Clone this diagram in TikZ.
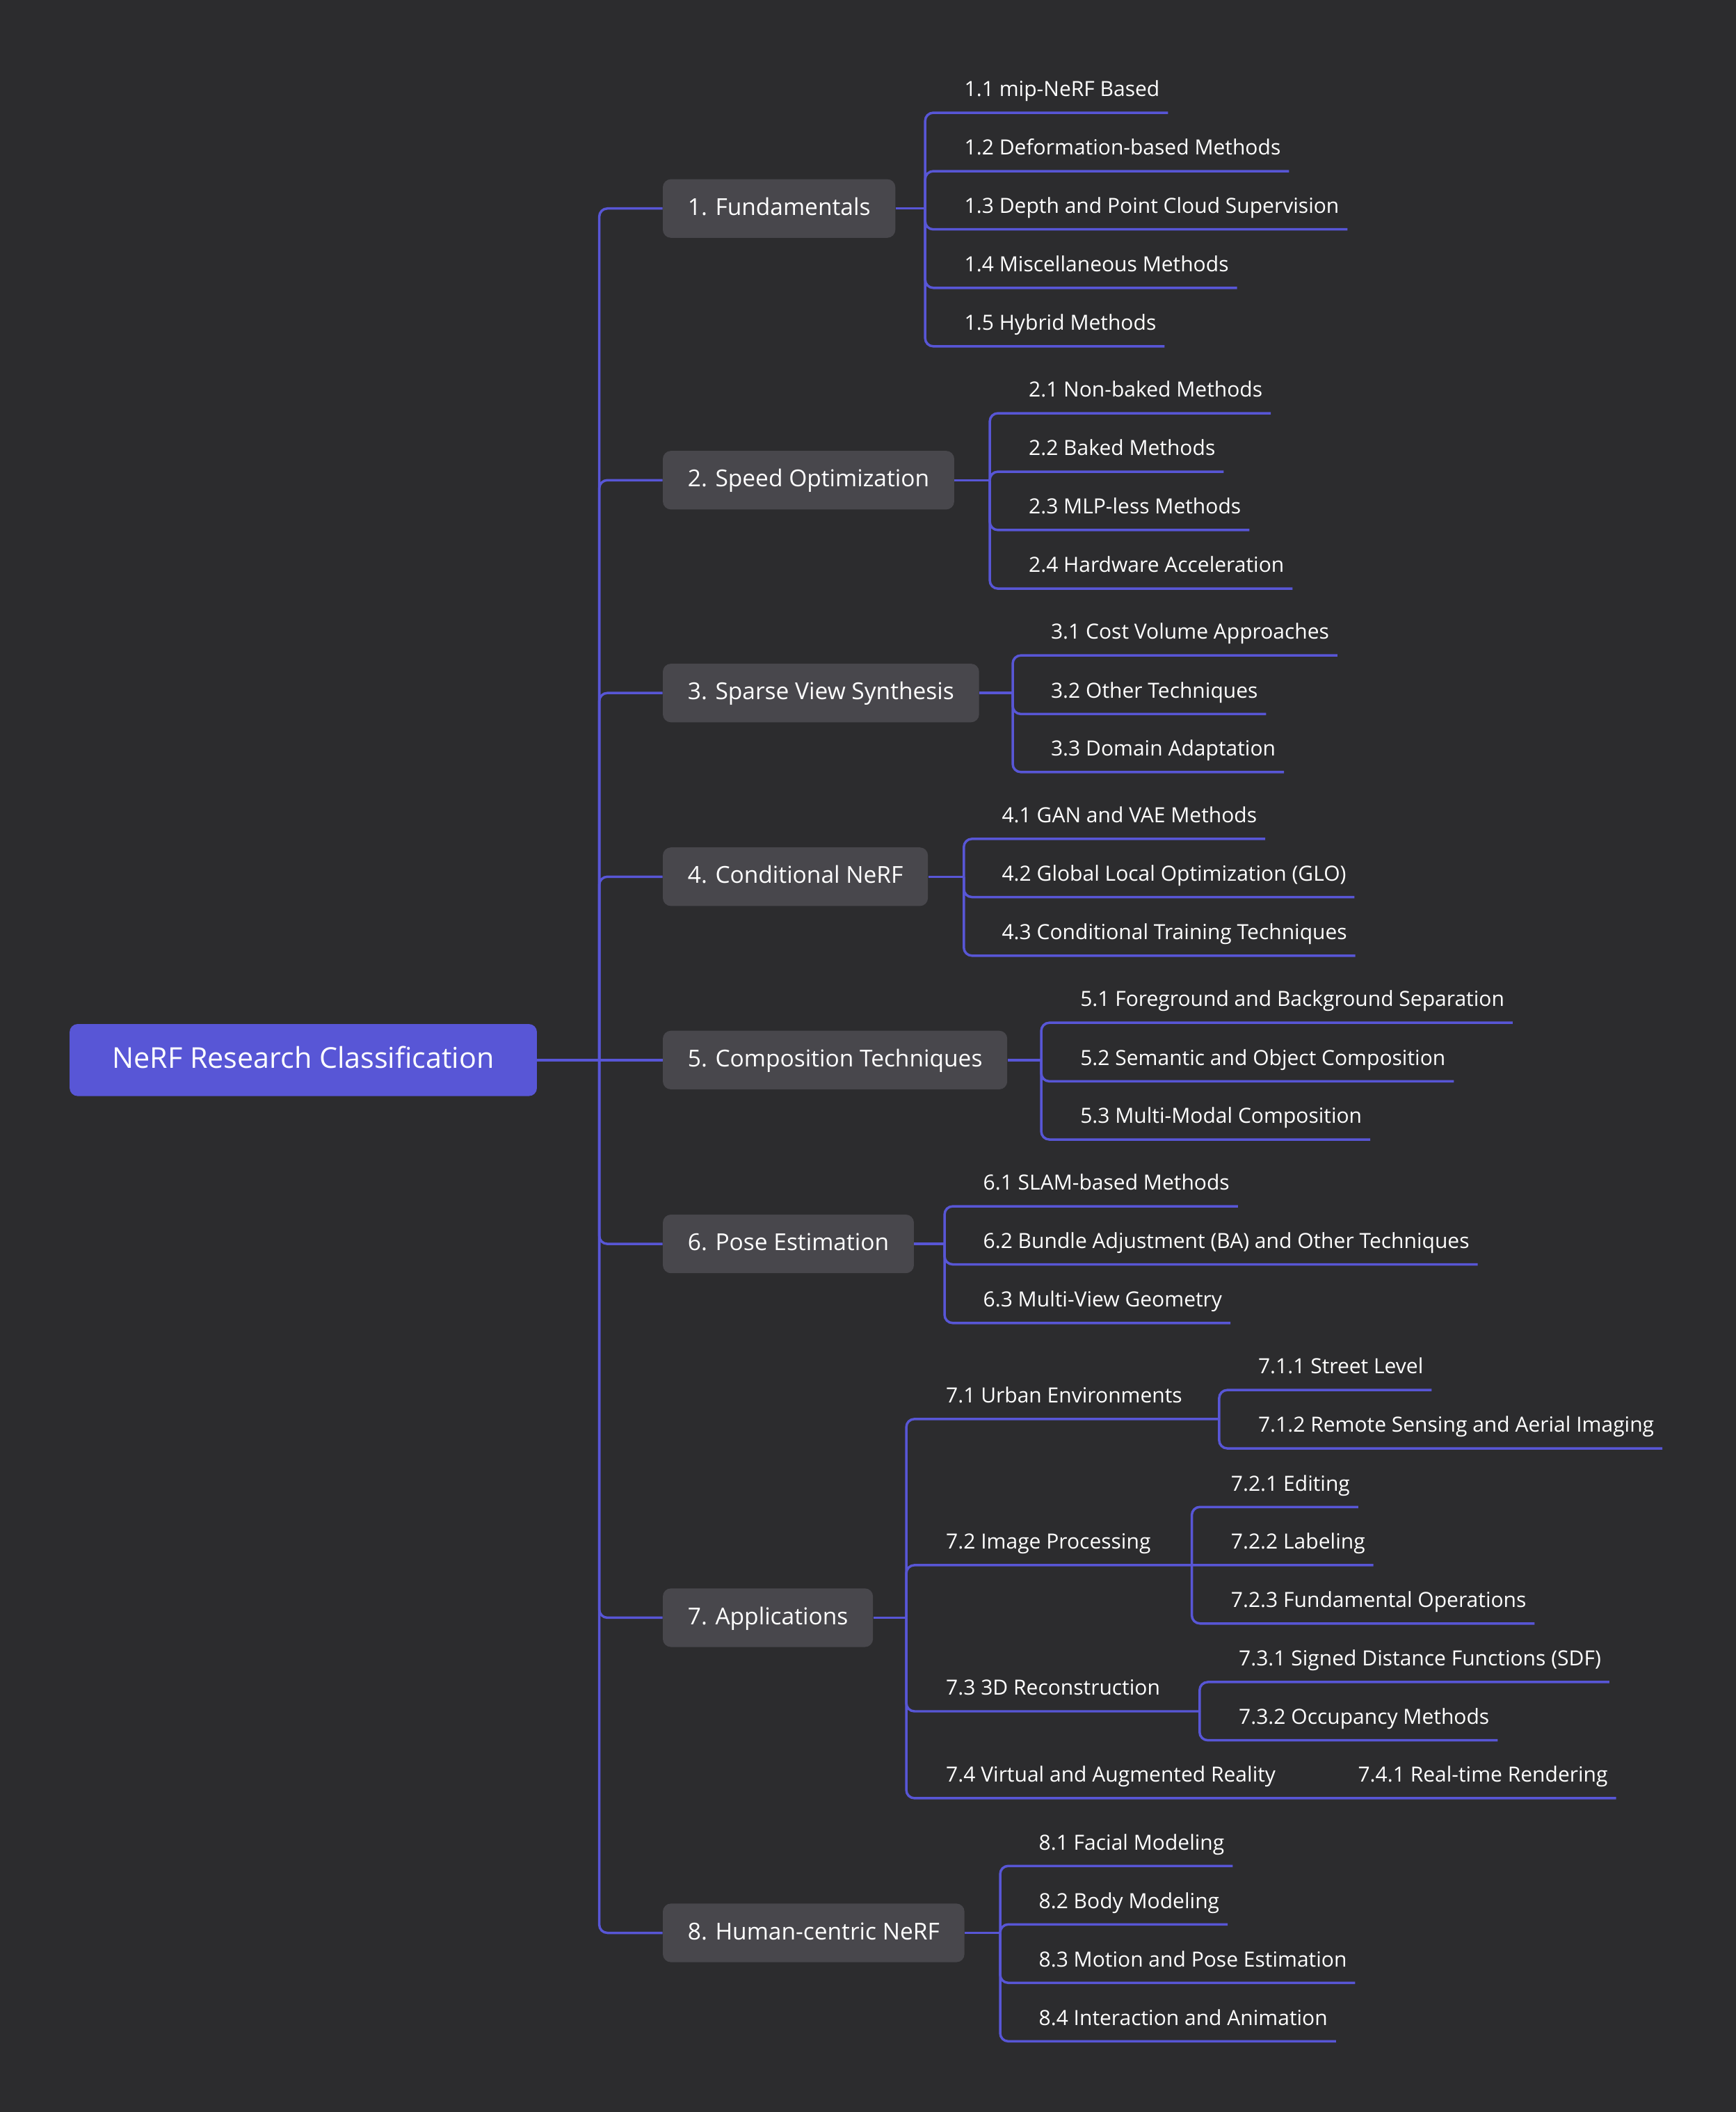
\documentclass[tikz,border=0pt]{standalone}
\usepackage{fontspec}
\setmainfont{Open Sans}
\definecolor{bgdark}{HTML}{2C2C2E}
\definecolor{indigo}{HTML}{5856D6}
\definecolor{boxgray}{HTML}{48474C}

\begin{document}
\begin{tikzpicture}[x=1pt, y=-1pt,
  link/.style={draw=indigo, line width=1.8pt, rounded corners=6pt},
  rootbox/.style={fill=indigo, rounded corners=6pt, text=white, font=\fontsize{21.3}{24}\selectfont,
    inner xsep=0pt, minimum width=347pt, minimum height=53.5pt, text height=12.4pt, text depth=0pt},
  topic/.style={fill=boxgray, rounded corners=6pt, text=white, font=\fontsize{17.3}{20}\selectfont,
    inner xsep=18.5pt, minimum height=43.5pt, text height=10pt, text depth=0pt, anchor=west},
  leaf/.style={text=white, font=\fontsize{15.5}{18}\selectfont, inner sep=0pt, anchor=base west}]
\fill[bgdark] (0,0) rectangle (1289,1568);
\useasboundingbox (0,0) rectangle (1289,1568);

\node[rootbox] (root) at (225.2,787) {NeRF Research Classification};
\coordinate (t0) at (445,787);

\node[topic] (fund) at (492,154.8) {1. Fundamentals};
\node[topic] (speed) at (492,356.5) {2. Speed Optimization};
\node[topic] (sparse) at (492,514.5) {3. Sparse View Synthesis};
\node[topic] (cond) at (492,650.9) {4. Conditional NeRF};
\node[topic] (comp) at (492,787) {5. Composition Techniques};
\node[topic] (pose) at (492,923.5) {6. Pose Estimation};
\node[topic] (app) at (492,1201) {7. Applications};
\node[topic] (human) at (492,1435) {8. Human-centric NeRF};

\draw[link] (root.east) -- (comp.west);
\foreach \b in {fund,speed,sparse,cond,pose,app,human}
  \draw[link] (t0) |- (\b.west);

\coordinate (t1) at (687,154.8);
\coordinate (t2) at (735,356.5);
\coordinate (t3) at (752,514.5);
\coordinate (t4) at (715.7,650.9);
\coordinate (t5) at (773.2,787);
\coordinate (t6) at (701.4,923.5);
\coordinate (t7) at (673,1201);
\coordinate (t8) at (742.7,1435);
\coordinate (t71) at (905.3,1053.5);
\coordinate (t72) at (885,1162);
\coordinate (t73) at (890.8,1270.5);

\draw[link] (fund.east) -- (t1);
\draw[link] (speed.east) -- (t2);
\draw[link] (sparse.east) -- (t3);
\draw[link] (cond.east) -- (t4);
\draw[link] (comp.east) -- (t5);
\draw[link] (pose.east) -- (t6);
\draw[link] (app.east) -- (t7);
\draw[link] (human.east) -- (t8);

\node[leaf] (l71) at (702.3,1041.5) {7.1 Urban Environments};
\node[leaf] (l72) at (702.3,1150) {7.2 Image Processing};
\node[leaf] (l73) at (702.3,1258.5) {7.3 3D Reconstruction};
\node[leaf] (l74) at (702.3,1323) {7.4 Virtual and Augmented Reality};
\node[leaf] (l722) at (913.9,1150) {7.2.2 Labeling};
\node[leaf] (l741) at (1008.2,1323) {7.4.1 Real-time Rendering};
\draw[link] (t7) |- (t71);
\draw[link] (t7) |- (t72) -- ([xshift=6pt,yshift=-12pt]l722.base east);
\draw[link] (t7) |- (t73);
\draw[link] (t7) |- ([xshift=6pt,yshift=-12pt]l741.base east);

\foreach \tr/\x/\n/\u/\t in {
  t1/716/11/83.7/{1.1 mip-NeRF Based},
  t1/716/12/127.1/{1.2 Deformation-based Methods},
  t1/716/13/170.3/{1.3 Depth and Point Cloud Supervision},
  t1/716/14/213.7/{1.4 Miscellaneous Methods},
  t1/716/15/257.1/{1.5 Hybrid Methods},
  t2/763.7/21/306.8/{2.1 Non-baked Methods},
  t2/763.7/22/350.2/{2.2 Baked Methods},
  t2/763.7/23/393.5/{2.3 MLP-less Methods},
  t2/763.7/24/437/{2.4 Hardware Acceleration},
  t3/780.2/31/486.6/{3.1 Cost Volume Approaches},
  t3/780.2/32/530.1/{3.2 Other Techniques},
  t3/780.2/33/573.2/{3.3 Domain Adaptation},
  t4/743.8/41/622.8/{4.1 GAN and VAE Methods},
  t4/743.8/42/666/{4.2 Global Local Optimization (GLO)},
  t4/743.8/43/709.5/{4.3 Conditional Training Techniques},
  t5/802/51/759.3/{5.1 Foreground and Background Separation},
  t5/802/52/802.8/{5.2 Semantic and Object Composition},
  t5/802/53/846/{5.3 Multi-Modal Composition},
  t6/729.9/61/895.6/{6.1 SLAM-based Methods},
  t6/729.9/62/938.7/{6.2 Bundle Adjustment (BA) and Other Techniques},
  t6/729.9/63/982.2/{6.3 Multi-View Geometry},
  t71/934.1/711/1032/{7.1.1 Street Level},
  t71/934.1/712/1075.3/{7.1.2 Remote Sensing and Aerial Imaging},
  t72/913.9/721/1118.8/{7.2.1 Editing},
  t72/913.9/723/1205.3/{7.2.3 Fundamental Operations},
  t73/919.7/731/1248.8/{7.3.1 Signed Distance Functions (SDF)},
  t73/919.7/732/1292/{7.3.2 Occupancy Methods},
  t8/771.2/81/1385.3/{8.1 Facial Modeling},
  t8/771.2/82/1428.7/{8.2 Body Modeling},
  t8/771.2/83/1472.1/{8.3 Motion and Pose Estimation},
  t8/771.2/84/1515.5/{8.4 Interaction and Animation}} {
  \node[leaf] (l\n) at (\x,\u-12) {\t};
  \draw[link] (\tr) |- ([xshift=6pt,yshift=-12pt]l\n.base east);
}
\end{tikzpicture}
\end{document}
